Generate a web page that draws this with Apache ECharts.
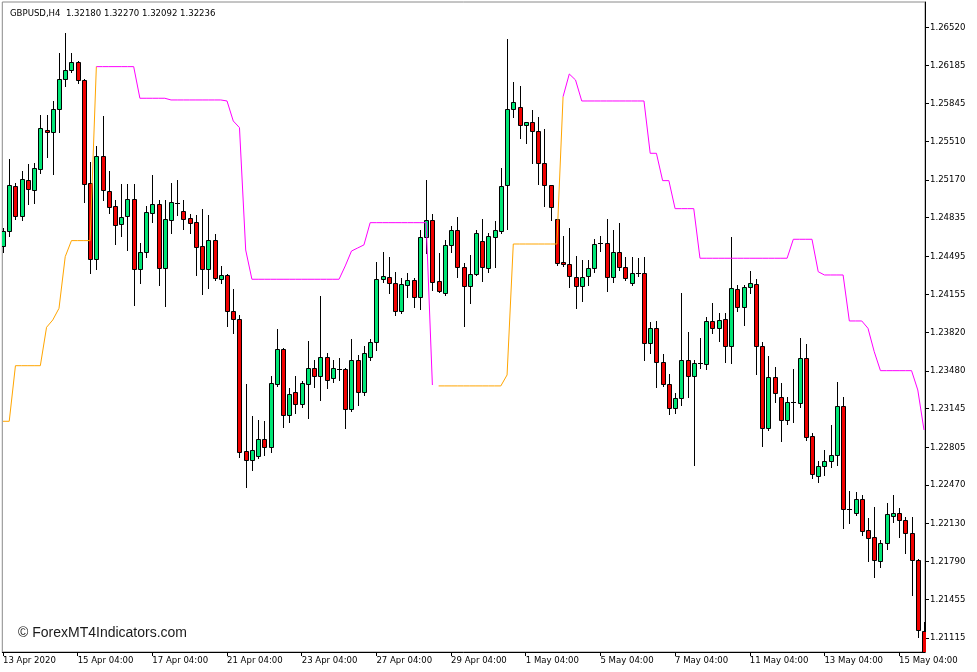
<!DOCTYPE html>
<html><head><meta charset="utf-8">
<script src="https://cdn.jsdelivr.net/npm/echarts@6.0.0/dist/echarts.min.js"></script>
<style>html,body{margin:0;padding:0;background:#fff}#c{width:977px;height:672px}</style>
</head><body><div id="c"></div><script>
// ---- Data (GBPUSD H4) ----
const opens = [1.24585,1.24717,1.25116,1.24850,1.25169,1.25080,1.25266,1.25611,1.25594,1.25797,1.26063,1.26142,1.26213,1.26054,1.25142,1.24470,1.25381,1.25072,1.24939,1.24779,1.24850,1.25001,1.24381,1.24532,1.24877,1.24956,1.24390,1.24815,1.24965,1.24894,1.24832,1.24797,1.24585,1.24381,1.24638,1.24293,1.24328,1.24009,1.23939,1.22770,1.22691,1.22726,1.22876,1.22806,1.23363,1.23673,1.23089,1.23292,1.23186,1.23363,1.23505,1.23434,1.23602,1.23416,1.23496,1.23496,1.23142,1.23576,1.23292,1.23602,1.23735,1.24293,1.24310,1.24257,1.24009,1.24240,1.24284,1.24133,1.24664,1.24815,1.24275,1.24169,1.24594,1.24726,1.24399,1.24231,1.24337,1.24629,1.24390,1.24664,1.24717,1.25125,1.25797,1.25815,1.25656,1.25682,1.25603,1.25319,1.25125,1.24824,1.24443,1.24425,1.24310,1.24231,1.24319,1.24390,1.24611,1.24611,1.24310,1.24532,1.24399,1.24257,1.24346,1.24346,1.23726,1.23859,1.23558,1.23363,1.23151,1.23239,1.23576,1.23434,1.23549,1.23540,1.23921,1.23859,1.23939,1.23700,1.24204,1.24045,1.24222,1.24248,1.23700,1.22974,1.23425,1.23248,1.23045,1.23204,1.23195,1.23593,1.22903,1.22549,1.22637,1.22682,1.22735,1.23169,1.22257,1.22221,1.22345,1.22071,1.22009,1.21797,1.21956,1.22195,1.22221,1.22160,1.22044,1.21805,1.21177];
const highs = [1.24744,1.25355,1.25142,1.25249,1.25310,1.25319,1.25744,1.25744,1.25868,1.26293,1.26470,1.26293,1.26222,1.26063,1.25328,1.25470,1.25735,1.25249,1.24992,1.25133,1.25133,1.25133,1.24611,1.24939,1.25213,1.24992,1.24992,1.25142,1.25169,1.24992,1.24868,1.24859,1.24912,1.24859,1.24691,1.24408,1.24337,1.24204,1.23974,1.23363,1.23080,1.23045,1.23036,1.23434,1.23850,1.23682,1.23328,1.23434,1.23390,1.23744,1.23576,1.24142,1.23638,1.23576,1.23593,1.23505,1.23762,1.23620,1.23700,1.23762,1.24443,1.24532,1.24487,1.24355,1.24301,1.24346,1.24301,1.24726,1.25169,1.24868,1.24523,1.24638,1.24762,1.24841,1.24434,1.24505,1.24726,1.24824,1.24700,1.24806,1.25275,1.26417,1.26036,1.26001,1.25682,1.25788,1.25726,1.25620,1.25125,1.24824,1.24673,1.24744,1.24496,1.24461,1.24461,1.24647,1.24673,1.24824,1.24726,1.24788,1.24487,1.24487,1.24478,1.24487,1.23912,1.23921,1.23629,1.23452,1.23284,1.24169,1.23823,1.23576,1.23770,1.23956,1.24080,1.23992,1.23992,1.24664,1.24240,1.24240,1.24363,1.24293,1.23735,1.23611,1.23514,1.23372,1.23248,1.23496,1.23770,1.23717,1.22930,1.22682,1.22779,1.23000,1.23381,1.23248,1.22416,1.22407,1.22381,1.22177,1.22275,1.21983,1.22310,1.22381,1.22266,1.22186,1.22186,1.21814,1.21257];
const lows = [1.24532,1.24673,1.24824,1.24815,1.24956,1.24965,1.25231,1.25372,1.25222,1.25594,1.26001,1.26125,1.26027,1.24974,1.24346,1.24381,1.24992,1.24877,1.24602,1.24673,1.24549,1.24062,1.24257,1.24487,1.24797,1.24240,1.24054,1.24700,1.24859,1.24735,1.24700,1.24328,1.24160,1.24213,1.24284,1.24257,1.23877,1.23815,1.22717,1.22452,1.22602,1.22708,1.22735,1.22761,1.23346,1.22983,1.23027,1.23107,1.23160,1.23062,1.23337,1.23222,1.23328,1.23381,1.23399,1.22974,1.23124,1.23177,1.23266,1.23576,1.23664,1.24266,1.24169,1.23974,1.23992,1.24133,1.24045,1.24027,1.24523,1.24195,1.24180,1.24151,1.24532,1.24310,1.23877,1.24080,1.24328,1.24275,1.24355,1.24399,1.24700,1.24735,1.25726,1.25541,1.25496,1.25319,1.25133,1.24939,1.24815,1.24416,1.24408,1.24222,1.24036,1.24098,1.24240,1.24355,1.24540,1.24186,1.24266,1.24372,1.24284,1.24240,1.24319,1.23576,1.23638,1.23337,1.23346,1.23098,1.23107,1.23177,1.23248,1.22646,1.23505,1.23496,1.23815,1.23744,1.23558,1.23549,1.24009,1.23885,1.24169,1.23452,1.22815,1.22956,1.23204,1.22859,1.23009,1.23027,1.23160,1.22868,1.22531,1.22496,1.22558,1.22629,1.22646,1.22089,1.22133,1.22204,1.22027,1.21797,1.21655,1.21744,1.21903,1.22142,1.22009,1.21867,1.21496,1.21124,1.20832];
const closes = [1.24717,1.25125,1.24850,1.25178,1.25089,1.25275,1.25629,1.25594,1.25797,1.26063,1.26142,1.26213,1.26054,1.25133,1.24470,1.25381,1.25080,1.24930,1.24771,1.24841,1.25001,1.24381,1.24532,1.24886,1.24956,1.24390,1.24824,1.24974,1.24965,1.24824,1.24788,1.24576,1.24381,1.24638,1.24301,1.24328,1.24009,1.23939,1.22761,1.22691,1.22779,1.22876,1.22806,1.23372,1.23673,1.23089,1.23275,1.23186,1.23372,1.23505,1.23434,1.23602,1.23399,1.23505,1.23496,1.23142,1.23576,1.23292,1.23638,1.23735,1.24293,1.24319,1.24257,1.24009,1.24248,1.24284,1.24133,1.24664,1.24815,1.24266,1.24186,1.24594,1.24726,1.24399,1.24231,1.24337,1.24700,1.24399,1.24673,1.24726,1.25116,1.25797,1.25859,1.25656,1.25682,1.25603,1.25319,1.25125,1.24930,1.24434,1.24425,1.24319,1.24231,1.24310,1.24390,1.24602,1.24611,1.24310,1.24532,1.24399,1.24301,1.24346,1.24346,1.23726,1.23859,1.23558,1.23363,1.23151,1.23239,1.23576,1.23434,1.23549,1.23549,1.23921,1.23859,1.23930,1.23700,1.24213,1.24045,1.24222,1.24257,1.23700,1.22974,1.23425,1.23284,1.23045,1.23204,1.23204,1.23593,1.22894,1.22567,1.22637,1.22682,1.22735,1.23169,1.22257,1.22257,1.22345,1.22062,1.22000,1.21805,1.21956,1.22213,1.22221,1.22160,1.22044,1.21805,1.21186,1.20876];
// indicator: support (orange) and resistance (magenta) trail, null = not drawn
const supportLine = [1.23033,1.23033,1.23525,1.23525,1.23525,1.23525,1.23525,1.23865,1.23930,1.24033,1.24490,1.24632,1.24632,1.24632,1.24632,1.26172,
 null,null,null,null,null,null,null,null,null,null,null,null,null,null,null,null,null,null,null,null,null,null,null,null,null,null,null,null,null,null,null,null,null,null,null,null,null,null,null,null,null,null,null,null,null,null,null,null,null,null,null,null,null,null,
 1.23346,1.23346,1.23346,1.23346,1.23346,1.23346,1.23346,1.23346,1.23346,1.23346,1.23346,1.23443,1.24602,1.24602,1.24602,1.24602,1.24602,1.24602,1.24602,1.24602,1.25906,
 null,null,null,null,null,null,null,null,null,null,null,null,null,null,null,null,null,null,null,null,null,null,null,null,null,null,null,null,null,null,null,null,null,null,null,null,null,null,null,null,null,null,null,null,null,null,null,null,null,null,null,null,null,null,null,null,null,null];
const resistLine = [null,null,null,null,null,null,null,null,null,null,null,null,null,null,null,
 1.26172,1.26172,1.26172,1.26172,1.26172,1.26172,1.26172,1.25892,1.25892,1.25892,1.25892,1.25892,1.25877,1.25877,1.25877,1.25877,1.25877,1.25877,1.25877,1.25877,1.25877,1.25868,1.25691,1.25632,1.24549,
 1.24290,1.24290,1.24290,1.24290,1.24290,1.24290,1.24290,1.24290,1.24290,1.24290,1.24290,1.24290,1.24290,1.24290,1.24290,1.24408,1.24540,1.24567,1.24594,
 1.24791,1.24791,1.24791,1.24791,1.24791,1.24791,1.24791,1.24791,1.24791,1.24791,1.23354,
 null,null,null,null,null,null,null,null,null,null,null,null,null,null,null,null,null,null,null,null,
 1.25906,1.26107,1.26054,1.25868,1.25868,1.25868,1.25868,1.25868,1.25868,1.25868,1.25868,1.25868,1.25868,1.25868,1.25405,1.25405,1.25163,1.25163,1.24915,1.24915,1.24915,1.24915,
 1.24476,1.24476,1.24476,1.24476,1.24476,1.24476,1.24476,1.24476,1.24476,1.24476,1.24476,1.24476,1.24476,1.24476,1.24476,1.24644,1.24644,1.24644,1.24644,1.24357,1.24328,1.24328,1.24328,1.24328,
 1.23921,1.23921,1.23921,1.23856,1.23649,1.23481,1.23481,1.23481,1.23481,1.23481,1.23481,1.23310,1.22956];
const priceTicks = [1.26520,1.26185,1.25845,1.25510,1.25170,1.24835,1.24495,1.24155,1.23820,1.23480,1.23145,1.22805,1.22470,1.22130,1.21790,1.21455,1.21115];
const titleText = 'GBPUSD,H4  1.32180 1.32270 1.32092 1.32236';
const watermark = '\u00A9 ForexMT4Indicators.com';
const firstBarUTC = Date.UTC(2020, 3, 13, 4, 0);
const labelEvery = 12;

// ---- bar times (H4, weekends skipped) ----
const MON = ['Jan','Feb','Mar','Apr','May','Jun','Jul','Aug','Sep','Oct','Nov','Dec'];
const barLabels = [];
for (let t = firstBarUTC; barLabels.length < opens.length; t += 4 * 3600e3) {
  const d = new Date(t); const wd = d.getUTCDay();
  if (wd === 0 || wd === 6) continue;
  const hh = String(d.getUTCHours()).padStart(2,'0') + ':' + String(d.getUTCMinutes()).padStart(2,'0');
  barLabels.push(barLabels.length === 0 ? d.getUTCDate() + ' ' + MON[d.getUTCMonth()] + ' ' + d.getUTCFullYear()
                                        : d.getUTCDate() + ' ' + MON[d.getUTCMonth()] + ' ' + hh);
}
const xTicks = barLabels.map((_, i) => i).filter(i => i % labelEvery === 0);

const GREEN = '#00E676', RED = '#F00000';
const FONT = "'DejaVu Sans Condensed', 'Liberation Sans', sans-serif";

const chart = echarts.init(document.getElementById('c'), null, {renderer: 'canvas'});
chart.setOption({
  animation: false,
  backgroundColor: '#fff',
  title: { text: titleText, left: 5, top: 4, textStyle: { fontSize: 9.5, fontWeight: 'normal', color: '#000', fontFamily: FONT } },
  graphic: [{ type: 'text', left: 18, top: 626, style: { text: watermark, font: "14px 'Liberation Sans', Arial, sans-serif", fill: '#1a1a1a' } }],
  grid: { left: 2, top: 2, width: 923, height: 650, show: true, borderColor: '#8a8a8a', borderWidth: 1, backgroundColor: '#fff' },
  xAxis: {
    type: 'value', min: -0.112, max: 148.16,
    splitLine: { show: false },
    axisLine: { show: true, onZero: false, lineStyle: { color: '#000', width: 1 } },
    axisTick: { show: true, length: 4, customValues: xTicks, lineStyle: { color: '#000' } },
    axisLabel: { customValues: xTicks, formatter: v => barLabels[Math.round(v)] || '', align: 'left', margin: 4,
      fontSize: 9.5, color: '#000', fontFamily: FONT }
  },
  yAxis: {
    type: 'value', position: 'right', min: 1.20991, max: 1.26744, scale: true,
    splitLine: { show: false },
    axisLine: { show: true, onZero: false, lineStyle: { color: '#000', width: 1 } },
    axisTick: { show: true, length: 4, customValues: priceTicks, lineStyle: { color: '#000' } },
    axisLabel: { customValues: priceTicks, formatter: v => v.toFixed(5), margin: 5, fontSize: 9.5, color: '#000', fontFamily: FONT }
  },
  series: [
    {
      type: 'custom', clip: true, silent: true,
      data: opens.map((o, i) => [i, o, highs[i], lows[i], closes[i]]),
      encode: { x: 0, y: [1, 2, 3, 4] },
      renderItem: function (params, api) {
        const i = api.value(0), o = api.value(1), h = api.value(2), l = api.value(3), c = api.value(4);
        const po = api.coord([i, o]), pc = api.coord([i, c]), ph = api.coord([i, h]), pl = api.coord([i, l]);
        const x = Math.round(po[0]);
        const yTop = Math.round(Math.min(po[1], pc[1])), yBot = Math.round(Math.max(po[1], pc[1]));
        const children = [{ type: 'line', shape: { x1: x + 0.5, y1: Math.round(ph[1]), x2: x + 0.5, y2: Math.round(pl[1]) + 1 },
          style: { stroke: '#000', lineWidth: 1 } }];
        if (yBot - yTop < 1) {
          children.push({ type: 'line', shape: { x1: x - 2, y1: yTop + 0.5, x2: x + 3, y2: yTop + 0.5 }, style: { stroke: '#000', lineWidth: 1 } });
        } else {
          children.push({ type: 'rect', shape: { x: x - 1.5, y: yTop + 0.5, width: 4, height: yBot - yTop },
            style: { fill: c > o ? GREEN : RED, stroke: '#000', lineWidth: 1 } });
        }
        return { type: 'group', children };
      },
      z: 2
    },
    { type: 'line', data: supportLine.map((v, i) => [i, v == null ? '-' : v]), showSymbol: false, symbol: 'none',
      connectNulls: false, lineStyle: { color: '#FFA500', width: 1 }, silent: true, z: 3 },
    { type: 'line', data: resistLine.map((v, i) => [i, v == null ? '-' : v]), showSymbol: false, symbol: 'none',
      connectNulls: false, lineStyle: { color: '#FF00FF', width: 1 }, silent: true, z: 3 }
  ]
});
</script></body></html>
